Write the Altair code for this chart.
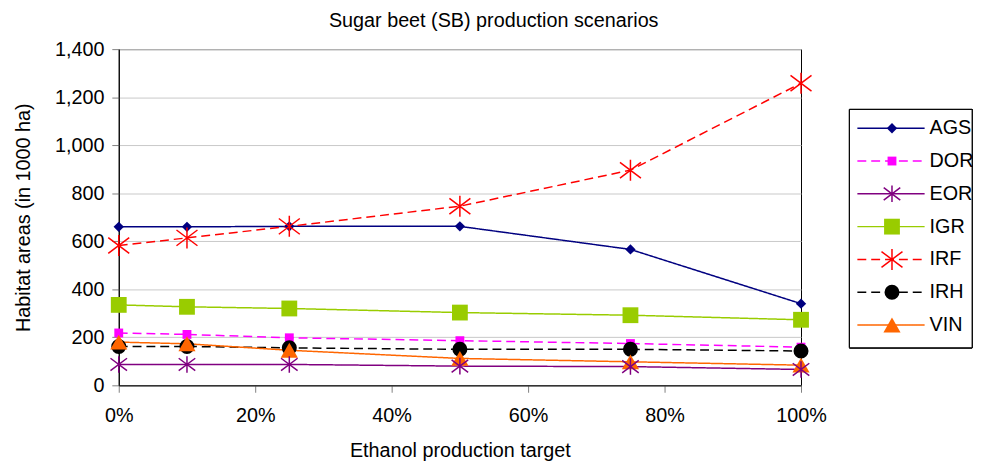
import altair as alt
import pandas as pd

targets = [0.0, 0.10, 0.25, 0.50, 0.75, 1.00]
series = ["AGS", "DOR", "EOR", "IGR", "IRF", "IRH", "VIN"]
AGS = [660, 660, 662, 662, 566, 340]
DOR = [218, 212, 198, 186, 174, 159]
EOR = [87, 87, 87, 80, 78, 66]
IGR = [335, 327, 320, 303, 292, 273]
IRF = [582, 614, 662, 746, 896, 1258]
IRH = [162, 162, 156, 150, 150, 143]
VIN = [180, 173, 146, 112, 98, 84]

colors = ["#000080", "#FF00FF", "#800080", "#99CC00", "#FF0000", "#000000", "#FF6600"]
dashes = [[1, 0], [9, 5], [1, 0], [1, 0], [9, 5], [9, 5], [1, 0]]
ASTER = "M-1,-0.75L1,0.75M-1,0.75L1,-0.75M0,-1L0,1"
shapes = ["diamond", "square", ASTER, "square", ASTER, "circle", "triangle-up"]
sizes = [110, 80, 280, 256, 450, 230, 300]
filled_series = ["AGS", "DOR", "IGR", "IRH", "VIN"]
star_series = ["EOR", "IRF"]

FONT = "Liberation Sans"
FS = 20

values = {"AGS": AGS, "DOR": DOR, "EOR": EOR, "IGR": IGR, "IRF": IRF, "IRH": IRH, "VIN": VIN}
rows = []
for s in series:
    for t, v in zip(targets, values[s]):
        rows.append({"target": t, "value": v, "series": s})
df = pd.DataFrame(rows)

color_enc = alt.Color("series:N", scale=alt.Scale(domain=series, range=colors), legend=None)
dash_enc = alt.StrokeDash("series:N", scale=alt.Scale(domain=series, range=dashes), legend=None)
shape_enc = alt.Shape("series:N", scale=alt.Scale(domain=series, range=shapes), legend=None)
size_enc = alt.Size("series:N", scale=alt.Scale(type="ordinal", domain=series, range=sizes), legend=None)

x_enc = alt.X("target:Q", scale=alt.Scale(domain=[0, 1], nice=False),
              axis=alt.Axis(values=[0, 0.2, 0.4, 0.6, 0.8, 1.0], format=".0%", grid=False,
                            title="Ethanol production target", labelPadding=14,
                            labelFlush=False, titlePadding=15, tickColor="#808080",
                            tickSize=7, domainColor="#000000"))
y_enc = alt.Y("value:Q", scale=alt.Scale(domain=[0, 1400], nice=False),
              axis=alt.Axis(values=list(range(0, 1401, 200)), format=",d", grid=True,
                            gridColor="#C8C8C8", title="Habitat areas (in 1000 ha)",
                            labelPadding=8, titlePadding=21, tickColor="#808080",
                            tickSize=7, domainColor="#000000"))

base = alt.Chart(df)
lines = base.mark_line(strokeWidth=1.5).encode(x=x_enc, y=y_enc, color=color_enc,
                                                strokeDash=dash_enc, detail="series:N")
pts_f = base.transform_filter(alt.FieldOneOfPredicate(field="series", oneOf=filled_series)).mark_point(
    filled=True, opacity=1).encode(x="target:Q", y="value:Q", color=color_enc, shape=shape_enc, size=size_enc)
pts_s = base.transform_filter(alt.FieldOneOfPredicate(field="series", oneOf=star_series)).mark_point(
    filled=False, opacity=1, strokeWidth=1.5).encode(x="target:Q", y="value:Q", color=color_enc,
                                                     shape=shape_enc, size=size_enc)
plot = alt.layer(lines, pts_f, pts_s)

# legend drawn beside the plot area (pixel positions relative to plot origin)
leg_df = pd.DataFrame({"series": series})
ly = alt.Y("series:N", scale=alt.Scale(domain=series, type="point", range=[80, 279], padding=0),
           axis=None)
lbase = alt.Chart(leg_df)
l_box = lbase.mark_rect(fill="white", stroke="#000000", strokeWidth=1).encode(
    x=alt.value(739), x2=alt.value(863), y=alt.value(61), y2=alt.value(302))
l_rule = lbase.mark_rule(strokeWidth=1.5).encode(x=alt.value(747), x2=alt.value(815), y=ly,
                                                 color=color_enc, strokeDash=dash_enc)
l_pf = lbase.transform_filter(alt.FieldOneOfPredicate(field="series", oneOf=filled_series)).mark_point(
    filled=True, opacity=1).encode(x=alt.value(782), y=ly, color=color_enc, shape=shape_enc, size=size_enc)
l_ps = lbase.transform_filter(alt.FieldOneOfPredicate(field="series", oneOf=star_series)).mark_point(
    filled=False, opacity=1, strokeWidth=1.5).encode(x=alt.value(782), y=ly, color=color_enc,
                                                     shape=shape_enc, size=size_enc)
l_txt = lbase.mark_text(align="left", baseline="middle", fontSize=FS, font=FONT,
                        color="#000000").encode(x=alt.value(820), y=ly, text="series:N")
legend = alt.layer(l_box, l_rule, l_pf, l_ps, l_txt)

chart = alt.layer(plot, legend).resolve_scale(y="independent").properties(
    width=690, height=340,
    padding={"left": 5, "top": 1, "right": 5, "bottom": 5},
    title=alt.TitleParams("Sugar beet (SB) production scenarios", fontSize=FS,
                          fontWeight="normal", font=FONT, anchor="middle", frame="bounds",
                          offset=8)
).configure_view(stroke="#000000", strokeWidth=1).configure_axis(
    labelFont=FONT, titleFont=FONT, labelFontSize=FS, titleFontSize=FS,
    titleFontWeight="normal", labelColor="#000000", titleColor="#000000"
)

chart.save("out.html", embed_options={"renderer": "svg", "actions": False})
